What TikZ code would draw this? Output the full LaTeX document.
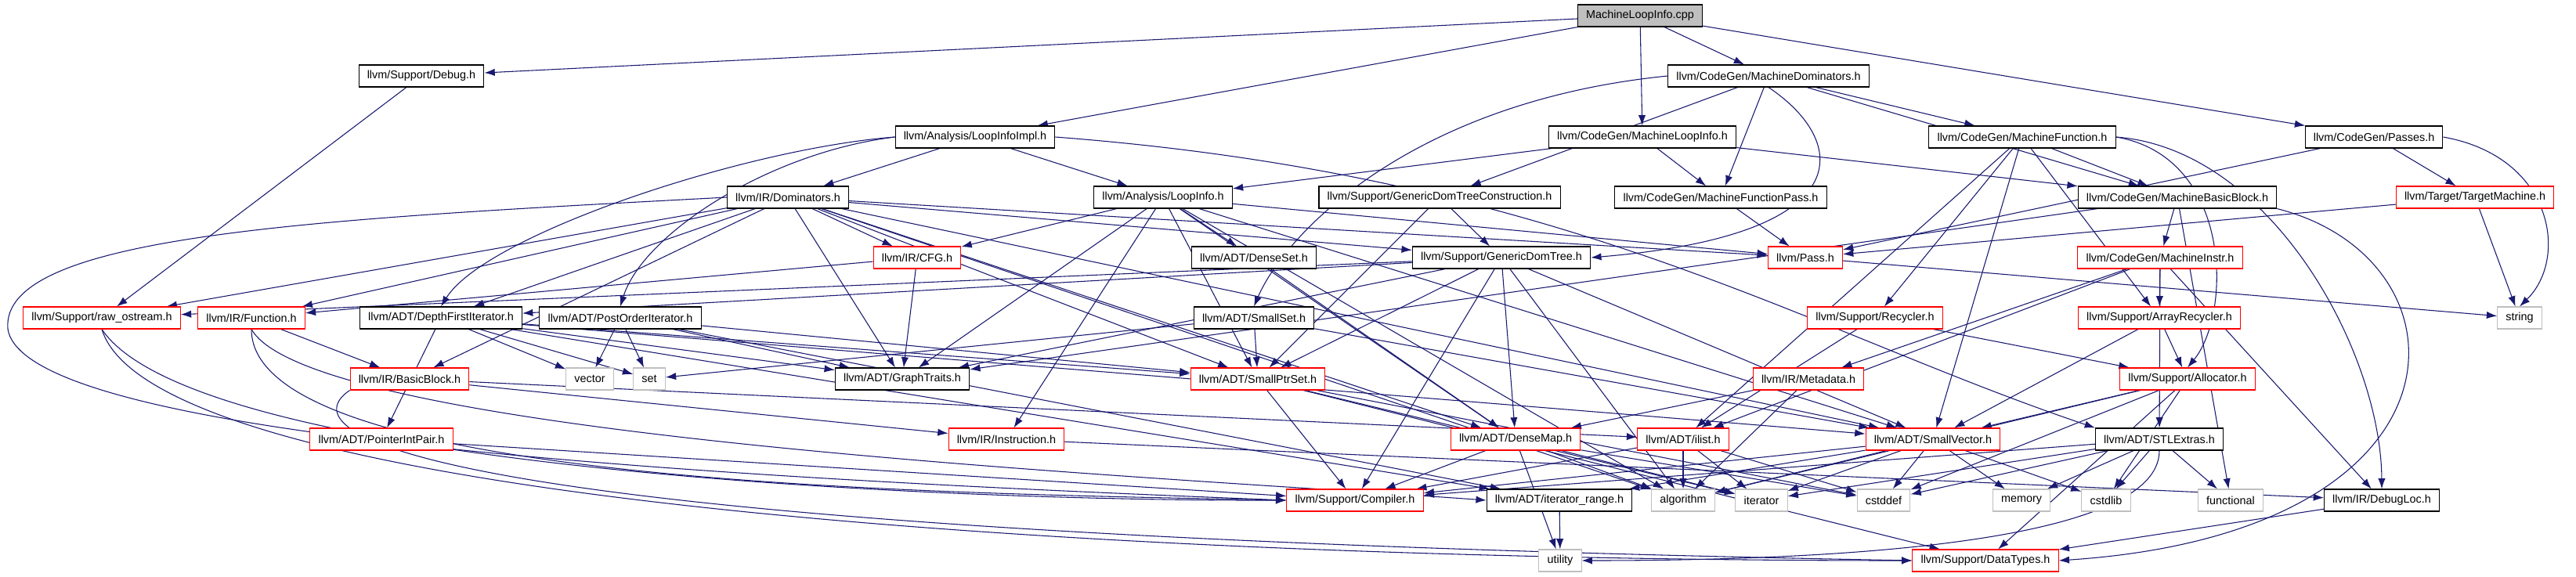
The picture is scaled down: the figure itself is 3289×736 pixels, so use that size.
\documentclass[tikz,border=0pt]{standalone}
\usepackage{fontspec}
\setmainfont{Liberation Sans}
\usetikzlibrary{arrows.meta,backgrounds}
\definecolor{EdgeBlue}{RGB}{25, 25, 112}
\definecolor{CutRed}{RGB}{255, 0, 0}
\definecolor{SysGray}{RGB}{191, 191, 191}

\tikzset{
  file/.style={draw=black, line width=0.8pt, fill=white, minimum height=21pt,
    inner xsep=8pt, inner ysep=0pt, font=\fontsize{10.8}{13}\selectfont},
  cutfile/.style={file, draw=CutRed},
  sysfile/.style={file, draw=SysGray},
  rootfile/.style={file, fill=SysGray},
  dep/.style={draw=EdgeBlue, line width=0.8pt, -{Latex[length=10pt,width=7pt]}}
}

\begin{document}
\begin{tikzpicture}[x=0.75pt, y=-0.75pt]
  \useasboundingbox (0,0) rectangle (3289,736);

  % rows 0-2
  \node[rootfile] (cpp) at (2094, 20) {MachineLoopInfo.cpp};
  \node[file] (debug) at (538, 97) {llvm/Support/Debug.h};
  \node[file] (mdom) at (2258, 97) {llvm/CodeGen/MachineDominators.h};
  \node[file] (lii) at (1245, 175) {llvm/Analysis/LoopInfoImpl.h};
  \node[file] (mli) at (2097, 175) {llvm/CodeGen/MachineLoopInfo.h};
  \node[file] (mfn) at (2582, 175) {llvm/CodeGen/MachineFunction.h};
  \node[file] (passes) at (3031, 175) {llvm/CodeGen/Passes.h};

  % rows 3-4
  \node[file] (dom) at (1006, 252) {llvm/IR/Dominators.h};
  \node[file] (li) at (1485, 252) {llvm/Analysis/LoopInfo.h};
  \node[file] (gdtc) at (1838, 252) {llvm/Support/GenericDomTreeConstruction.h};
  \node[file] (mfp) at (2197, 252) {llvm/CodeGen/MachineFunctionPass.h};
  \node[file] (mbb) at (2780, 252) {llvm/CodeGen/MachineBasicBlock.h};
  \node[cutfile] (tm) at (3160, 252) {llvm/Target/TargetMachine.h};
  \node[cutfile] (cfg) at (1171, 329) {llvm/IR/CFG.h};
  \node[file] (dset) at (1601, 329) {llvm/ADT/DenseSet.h};
  \node[file] (gdt) at (1917, 329) {llvm/Support/GenericDomTree.h};
  \node[cutfile] (pass) at (2305, 329) {llvm/Pass.h};
  \node[cutfile] (minstr) at (2758, 329) {llvm/CodeGen/MachineInstr.h};

  % rows 5-6
  \node[cutfile] (raw) at (130, 406) {llvm/Support/raw\_ostream.h};
  \node[cutfile] (func) at (321, 406) {llvm/IR/Function.h};
  \node[file] (dfi) at (563, 406) {llvm/ADT/DepthFirstIterator.h};
  \node[file] (poi) at (792, 406) {llvm/ADT/PostOrderIterator.h};
  \node[file] (sset) at (1601, 406) {llvm/ADT/SmallSet.h};
  \node[cutfile] (recyc) at (2394, 406) {llvm/Support/Recycler.h};
  \node[cutfile] (arecyc) at (2757, 406) {llvm/Support/ArrayRecycler.h};
  \node[sysfile] (string) at (3217, 406) {string};
  \node[cutfile] (bb) at (523, 484) {llvm/IR/BasicBlock.h};
  \node[sysfile] (vector) at (753, 484) {vector};
  \node[sysfile] (set) at (829, 484) {set};
  \node[file] (gtraits) at (1152, 484) {llvm/ADT/GraphTraits.h};
  \node[cutfile] (sptr) at (1606, 484) {llvm/ADT/SmallPtrSet.h};
  \node[cutfile] (meta) at (2309, 484) {llvm/IR/Metadata.h};
  \node[cutfile] (alloc) at (2793, 484) {llvm/Support/Allocator.h};

  % rows 7-9
  \node[cutfile] (pip) at (487, 561) {llvm/ADT/PointerIntPair.h};
  \node[cutfile] (instr) at (1285, 561) {llvm/IR/Instruction.h};
  \node[cutfile] (dmap) at (1935, 561) {llvm/ADT/DenseMap.h};
  \node[cutfile] (ilist) at (2149, 561) {llvm/ADT/ilist.h};
  \node[cutfile] (svec) at (2468, 561) {llvm/ADT/SmallVector.h};
  \node[file] (stlx) at (2757, 561) {llvm/ADT/STLExtras.h};
  \node[cutfile] (compiler) at (1730, 639) {llvm/Support/Compiler.h};
  \node[file] (itrange) at (1991, 639) {llvm/ADT/iterator\_range.h};
  \node[sysfile] (algorithm) at (2149, 639) {algorithm};
  \node[sysfile] (iterator) at (2249, 639) {iterator};
  \node[sysfile] (cstddef) at (2405, 639) {cstddef};
  \node[sysfile] (memory) at (2581, 639) {memory};
  \node[sysfile] (cstdlib) at (2689, 639) {cstdlib};
  \node[sysfile] (functional) at (2848, 639) {functional};
  \node[file] (dloc) at (3041, 639) {llvm/IR/DebugLoc.h};
  \node[sysfile] (utility) at (1992, 716) {utility};
  \node[cutfile] (dtypes) at (2535, 716) {llvm/Support/DataTypes.h};

  \begin{scope}[on background layer]
    % straight includes
    \foreach \a/\b in {cpp/debug, cpp/lii, cpp/mli, cpp/mdom, cpp/passes,
        debug/raw, lii/dom, lii/li,
        mdom/mbb, mdom/mfn, mdom/mfp, mdom/gdtc,
        mli/li, mli/mfp, mli/mbb,
        mfn/mbb, mfn/ilist, mfn/recyc, mfn/svec, mfn/arecyc,
        passes/pass, passes/tm, tm/pass, tm/string,
        dom/dfi, dom/gtraits, dom/sptr, dom/cfg, dom/func, dom/raw, dom/pass,
        dom/gdt, dom/dmap, dom/svec, dom/bb, dom/algorithm,
        li/cfg, li/dset, li/gtraits, li/sptr, li/dmap, li/svec, li/instr,
        li/pass, li/algorithm,
        gdtc/sptr, gdtc/gdt, mfp/pass,
        mbb/gtraits, mbb/minstr, mbb/functional,
        cfg/gtraits, cfg/func, dset/dmap,
        gdt/dmap, gdt/dfi, gdt/gtraits, gdt/sptr, gdt/svec, gdt/compiler,
        gdt/raw, gdt/algorithm, pass/string,
        minstr/meta, minstr/ilist, minstr/arecyc, minstr/stlx, minstr/dloc,
        func/bb,
        dfi/gtraits, dfi/pip, dfi/sptr, dfi/svec, dfi/itrange, dfi/set, dfi/vector,
        poi/gtraits, poi/sptr, poi/itrange, poi/set, poi/vector,
        sset/sptr, sset/svec, sset/set,
        recyc/alloc, recyc/ilist, arecyc/svec, arecyc/alloc,
        bb/ilist, bb/instr,
        sptr/compiler, sptr/dtypes, sptr/cstddef, sptr/iterator,
        meta/dmap, meta/algorithm, pip/compiler,
        alloc/svec, alloc/algorithm, alloc/cstddef, alloc/cstdlib, alloc/dtypes,
        instr/dloc,
        dmap/compiler, dmap/utility, dmap/algorithm, dmap/iterator, dmap/cstddef,
        ilist/algorithm, ilist/iterator, ilist/cstddef, ilist/compiler,
        svec/itrange, svec/compiler, svec/algorithm, svec/cstddef,
        svec/cstdlib, svec/iterator, svec/memory,
        stlx/compiler, stlx/cstddef, stlx/cstdlib, stlx/functional,
        stlx/iterator, stlx/memory,
        itrange/utility, dloc/dtypes}
      \draw[dep] (\a) -- (\b);

    % curved includes
    \draw[dep] (lii.west) .. controls (950,190) and (620,300) .. (dfi.north);
    \draw[dep] (lii.west) .. controls (980,195) and (820,300) .. (poi.north);
    \draw[dep] (lii.east) .. controls (2000,225) and (2300,420) .. (stlx.north west);
    \draw[dep] (mdom.south) .. controls (2360,180) and (2380,300) .. (gdt.east);
    \draw[dep] (mdom.west) .. controls (1800,130) and (1640,300) .. (sset.north);
    \draw[dep] (mfn.east) .. controls (2900,190) and (3040,450) .. (dloc.north);
    \draw[dep] (mfn.east) .. controls (2850,200) and (2850,400) .. (alloc.north);
    \draw[dep] (passes.east) .. controls (3260,200) and (3280,330) .. (string.north);
    \draw[dep] (mbb.south east) .. controls (3160,330) and (3170,680) .. (dtypes.east);
    \draw[dep] (stlx.south) .. controls (2757,700) and (2300,716) .. (utility.east);
    \draw[dep] (raw.south) .. controls (200,650) and (1500,716) .. (dtypes.west);
    \draw[dep] (raw.south) .. controls (250,600) and (1200,640) .. (compiler.west);
    \draw[dep] (func.south) .. controls (321,620) and (1200,630) .. (compiler.west);
    \draw[dep] (func.south) .. controls (400,560) and (1500,610) .. (itrange.west);
    \draw[dep] (bb.south west) .. controls (370,550) and (480,680) .. (dtypes.west);
    \draw[dep] (dom.west) .. controls (400,280) and (0,300) .. (10,420)
      .. controls (30,560) and (900,610) .. (compiler.west);
  \end{scope}
\end{tikzpicture}
\end{document}
